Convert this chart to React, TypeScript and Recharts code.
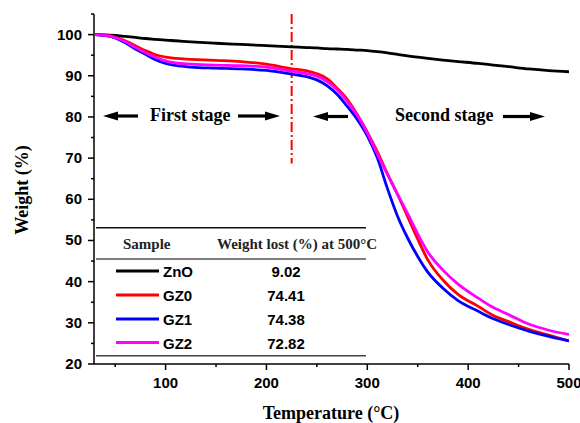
import React from "react";
import { LineChart, Line, XAxis, YAxis, ReferenceLine } from "recharts";

// temperature (°C) and weight (%)
const temps = [30, 40, 50, 60, 70, 80, 90, 100, 110, 125, 150, 175, 200, 225, 240, 250, 260, 270, 280, 290, 300, 310, 320, 330, 340, 350, 360, 375, 390, 410, 425, 440, 460, 480, 500];
const zno = [100, 99.95, 99.8, 99.55, 99.3, 99.05, 98.85, 98.65, 98.5, 98.25, 97.9, 97.6, 97.3, 97.0, 96.85, 96.75, 96.6, 96.5, 96.4, 96.25, 96.1, 95.85, 95.55, 95.2, 94.85, 94.5, 94.2, 93.8, 93.45, 93.0, 92.6, 92.2, 91.65, 91.25, 90.98];
const gz0 = [100, 99.85, 99.4, 98.5, 97.3, 96.1, 95.1, 94.5, 94.2, 94.0, 93.75, 93.45, 92.8, 91.7, 91.2, 90.5, 89.3, 87.0, 84.3, 80.6, 76.3, 71.5, 66.2, 61.2, 55.8, 50.3, 45.3, 40.4, 36.9, 34.0, 31.8, 30.3, 28.4, 27.0, 25.59];
const gz1 = [100, 99.75, 99.2, 98.0, 96.5, 95.2, 93.9, 93.0, 92.5, 92.1, 91.85, 91.65, 91.3, 90.4, 89.8, 89.0, 87.6, 85.5, 82.6, 79.4, 75.4, 70.0, 62.6, 55.9, 50.6, 46.1, 42.3, 38.4, 35.4, 32.8, 31.0, 29.6, 28.0, 26.7, 25.62];
const gz2 = [100, 99.8, 99.3, 98.3, 96.9, 95.6, 94.5, 93.6, 93.1, 92.85, 92.6, 92.45, 92.1, 91.1, 90.5, 89.9, 88.6, 86.6, 83.8, 80.4, 76.1, 71.0, 66.0, 61.2, 56.5, 51.6, 47.2, 42.8, 39.4, 36.0, 33.7, 32.0, 29.7, 28.2, 27.18];

const seriesNames = ["ZnO", "GZ0", "GZ1", "GZ2"];
const seriesColors = ["#000000", "#ff0000", "#0000ff", "#ff00ff"];
const weightLost = ["9.02", "74.41", "74.38", "72.82"];

const xTicks = [50, 100, 150, 200, 250, 300, 350, 400, 450, 500];
const yTicks = [20, 25, 30, 35, 40, 45, 50, 55, 60, 65, 70, 75, 80, 85, 90, 95, 100, 105];
const stageBoundary = 225;

const data = temps.map((t, i) => ({ t, ZnO: zno[i], GZ0: gz0[i], GZ1: gz1[i], GZ2: gz2[i] }));

const SANS = "'Liberation Sans', Arial, sans-serif";
const SERIF = "'Liberation Serif', 'Times New Roman', serif";

const BottomTick = ({ x, y, payload }: any) => {
  const major = payload.value % 100 === 0;
  return (
    <g>
      <line x1={x} y1={y} x2={x} y2={y + (major ? 6 : 3)} stroke="#000" strokeWidth={1.5} />
      {major && (
        <text x={x} y={y + 24} textAnchor="middle" fontFamily={SANS} fontWeight="bold" fontSize={15} fill="#000">
          {payload.value}
        </text>
      )}
    </g>
  );
};

const TopTick = ({ x, y, payload }: any) => {
  const major = payload.value % 100 === 0;
  return <line x1={x} y1={y} x2={x} y2={y + (major ? 5 : 3)} stroke="#000" strokeWidth={1.2} />;
};

const LeftTick = ({ x, y, payload }: any) => {
  const major = payload.value % 10 === 0;
  return (
    <g>
      <line x1={x} y1={y} x2={x - (major ? 6 : 3)} y2={y} stroke="#000" strokeWidth={1.5} />
      {major && (
        <text x={x - 12} y={y + 5} textAnchor="end" fontFamily={SANS} fontWeight="bold" fontSize={15} fill="#000">
          {payload.value}
        </text>
      )}
    </g>
  );
};

const RightTick = ({ x, y, payload }: any) => {
  const major = payload.value % 10 === 0;
  return <line x1={x} y1={y} x2={x - (major ? 5 : 3)} y2={y} stroke="#000" strokeWidth={1.2} />;
};

const Arrow = ({ from, to, y }: { from: number; to: number; y: number }) => {
  const dir = Math.sign(to - from);
  const headLen = 15;
  const base = to - dir * headLen;
  return (
    <g>
      <line x1={from} y1={y} x2={base + dir * 2} y2={y} stroke="#000" strokeWidth={3.2} />
      <polygon points={`${to},${y} ${base},${y - 4.5} ${base},${y + 4.5}`} fill="#000" />
    </g>
  );
};

export default function App() {
  const rowY = [277, 301, 325, 348.5];
  return (
    <div style={{ position: "absolute", left: 0, top: 0, width: 580, height: 423, background: "#fff" }}>
      <LineChart width={580} height={423} data={data} margin={{ top: 14, right: 11, left: 0, bottom: 0 }}>
        <XAxis
          dataKey="t"
          type="number"
          domain={[29, 500]}
          ticks={xTicks}
          interval={0}
          height={59}
          tickSize={0}
          tickMargin={0}
          tickLine={false}
          tick={<BottomTick />}
          axisLine={{ stroke: "#000", strokeWidth: 1.5 }}
          allowDataOverflow
        />
        <XAxis
          xAxisId="top"
          orientation="top"
          type="number"
          domain={[29, 500]}
          ticks={xTicks}
          interval={0}
          height={0}
          tickSize={0}
          tickMargin={0}
          tickLine={false}
          tick={<TopTick />}
          axisLine={{ stroke: "#000", strokeWidth: 1.5 }}
          allowDataOverflow
        />
        <YAxis
          type="number"
          domain={[20, 105]}
          ticks={yTicks}
          interval={0}
          width={94}
          tickSize={0}
          tickMargin={0}
          tickLine={false}
          tick={<LeftTick />}
          axisLine={{ stroke: "#000", strokeWidth: 1.5 }}
          allowDataOverflow
        />
        <YAxis
          yAxisId="right"
          orientation="right"
          type="number"
          domain={[20, 105]}
          ticks={yTicks}
          interval={0}
          width={0}
          tickSize={0}
          tickMargin={0}
          tickLine={false}
          tick={<RightTick />}
          axisLine={{ stroke: "#000", strokeWidth: 1.5 }}
          allowDataOverflow
        />
        <ReferenceLine
          segment={[{ x: stageBoundary, y: 105 }, { x: stageBoundary, y: 68.7 }]}
          stroke="#ff0000"
          strokeWidth={2}
          strokeDasharray="10 3 2 3"
        />
        {seriesNames.map((name, i) => (
          <Line
            key={name}
            dataKey={name}
            type="monotone"
            stroke={seriesColors[i]}
            strokeWidth={2.8}
            dot={false}
            isAnimationActive={false}
          />
        ))}
      </LineChart>
      <svg width={580} height={423} style={{ position: "absolute", left: 0, top: 0, pointerEvents: "none" }}>
        <text x={331} y={419} textAnchor="middle" fontFamily={SERIF} fontWeight="bold" fontSize={18} fill="#000">
          Temperature (°C)
        </text>
        <text
          x={28}
          y={190}
          textAnchor="middle"
          transform="rotate(-90 28 190)"
          fontFamily={SERIF}
          fontWeight="bold"
          fontSize={18}
          fill="#000"
        >
          Weight (%)
        </text>

        <Arrow from={138} to={103} y={116} />
        <text x={150} y={121} fontFamily={SERIF} fontWeight="bold" fontSize={18} fill="#000">First stage</text>
        <Arrow from={238} to={280} y={116} />

        <Arrow from={348} to={313} y={116.5} />
        <text x={395} y={121} fontFamily={SERIF} fontWeight="bold" fontSize={18} fill="#000">Second stage</text>
        <Arrow from={503} to={545} y={116.5} />

        <line x1={96} y1={227.7} x2={366} y2={227.7} stroke="#111" strokeWidth={1.5} />
        <text x={123} y={249} fontFamily={SERIF} fontWeight="bold" fontSize={15} fill="#222">Sample</text>
        <text x={217} y={249} fontFamily={SERIF} fontWeight="bold" fontSize={15} fill="#222">Weight lost (%) at 500°C</text>
        <line x1={96} y1={259} x2={366} y2={259} stroke="#555" strokeWidth={1.5} />
        {seriesNames.map((name, i) => (
          <g key={name}>
            <line x1={116} y1={rowY[i] - 6} x2={159} y2={rowY[i] - 6} stroke={seriesColors[i]} strokeWidth={3} />
            <text x={163} y={rowY[i]} fontFamily={SANS} fontWeight="bold" fontSize={15} fill="#000">{name}</text>
            <text x={286} y={rowY[i]} textAnchor="middle" fontFamily={SANS} fontWeight="bold" fontSize={15} fill="#000">
              {weightLost[i]}
            </text>
          </g>
        ))}
        <line x1={96} y1={355.7} x2={366} y2={355.7} stroke="#444" strokeWidth={1.5} />
      </svg>
    </div>
  );
}
